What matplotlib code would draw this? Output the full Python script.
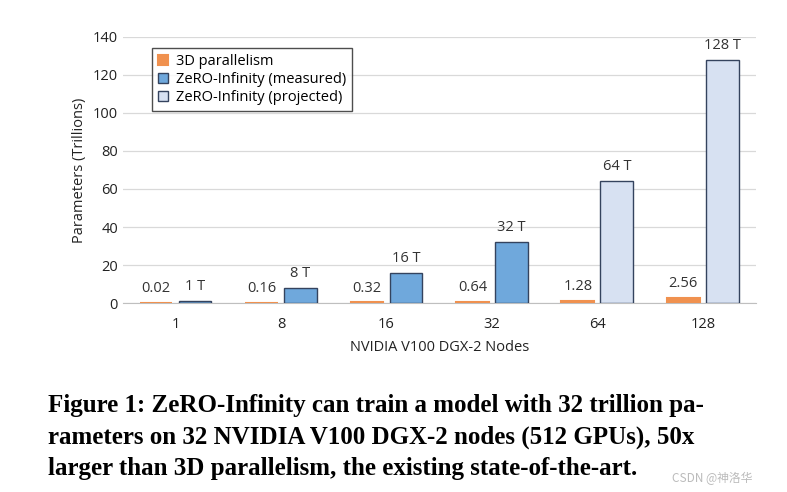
import matplotlib.pyplot as plt
import numpy as np

nodes = ["1", "8", "16", "32", "64", "128"]
parallel_3d = [0.02, 0.16, 0.32, 0.64, 1.28, 2.56]
zero_inf = [1, 8, 16, 32, 64, 128]
measured = [True, True, True, True, False, False]
zero_labels = ["1 T", "8 T", "16 T", "32 T", "64 T", "128 T"]
caption = ["Figure 1: ZeRO-Infinity can train a model with 32 trillion pa-",
           "rameters on 32 NVIDIA V100 DGX-2 nodes (512 GPUs), 50x",
           "larger than 3D parallelism, the existing state-of-the-art."]

plt.rcParams['font.family'] = ['Open Sans', 'DejaVu Sans']

fig = plt.figure(figsize=(7.87, 4.92), dpi=100)
ax = fig.add_axes([0.156, 0.384, 0.804, 0.541])

x = np.arange(len(nodes))
w = 0.31
orange = '#F0914F'
blue = '#6FA8DC'
light = '#D7E1F2'
edge = '#34435E'

ax.bar(x - 0.185, parallel_3d, w, color=orange, edgecolor=orange, linewidth=1.5,
       label='3D parallelism', zorder=3)
cols = [blue if m else light for m in measured]
ax.bar(x + 0.185, zero_inf, w, color=cols, edgecolor=edge, linewidth=1.0, zorder=3)
# proxies for legend
ax.bar([0], [0], 0, color=blue, edgecolor=edge, label='ZeRO-Infinity (measured)')
ax.bar([0], [0], 0, color=light, edgecolor=edge, label='ZeRO-Infinity (projected)')

for i in range(len(nodes)):
    ax.annotate("%g" % parallel_3d[i], (x[i] - 0.185, parallel_3d[i]), xytext=(0, 5),
                textcoords='offset points', ha='center', va='bottom', fontsize=10.5, color='#333333')
    ax.annotate(zero_labels[i], (x[i] + 0.185, zero_inf[i]), xytext=(0, 5),
                textcoords='offset points', ha='center', va='bottom', fontsize=10.5, color='#333333')

ax.set_xlim(-0.5, len(nodes) - 0.5)
ax.set_ylim(0, 140)
ax.set_yticks(range(0, 141, 20))
ax.set_xticks(x)
ax.set_xticklabels(nodes)
ax.tick_params(axis='both', length=0, labelsize=10.5, colors='#222222')
ax.tick_params(axis='x', pad=10)
ax.grid(axis='y', color='#D9D9D9', linewidth=0.9, zorder=0)
for s in ['top', 'right', 'left']:
    ax.spines[s].set_visible(False)
ax.spines['bottom'].set_color('#BFBFBF')
ax.spines['bottom'].set_zorder(1)
ax.set_ylabel('Parameters (Trillions)', fontsize=10.5, color='#222222')
ax.set_xlabel('NVIDIA V100 DGX-2 Nodes', fontsize=10.5, color='#222222', labelpad=6)

leg = ax.legend(loc='upper left', bbox_to_anchor=(0.035, 0.985), fontsize=10.5, frameon=True,
                fancybox=False, edgecolor='#222222', handlelength=0.7, handleheight=0.7,
                handletextpad=0.5, labelspacing=0.2, borderpad=0.4)
leg.get_frame().set_linewidth(1.0)

for i, line in enumerate(caption):
    fig.text(0.061, 0.175 - i * 0.064, line, fontsize=18, fontweight='bold',
             family='Liberation Serif', va='center', ha='left', color='black')

fig.text(0.905, 0.028, 'CSDN @神洛华', fontsize=8.5, color='#BBBBBB', ha='center', va='center',
         family=['Noto Sans CJK SC', 'DejaVu Sans'])

plt.savefig('out.png', dpi=100)
